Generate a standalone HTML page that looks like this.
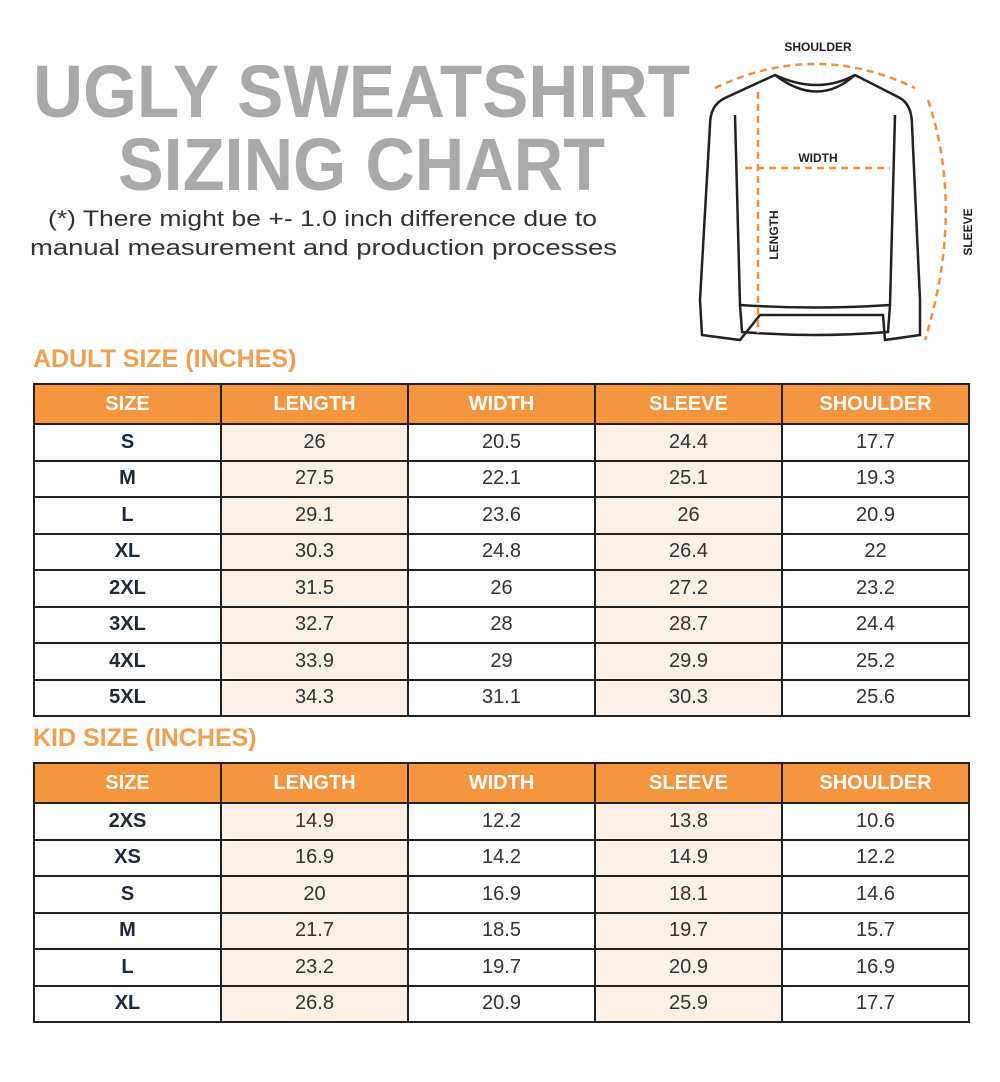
<!DOCTYPE html>
<html><head><meta charset="utf-8"><style>
body{margin:0;background:#fff;width:1000px;height:1082px;position:relative;overflow:hidden;font-family:"Liberation Sans",sans-serif}
table{position:absolute;left:33px;border-collapse:collapse;table-layout:fixed;width:937px}
td,th{border:2px solid #222;text-align:center;padding:0;font-size:20px}
th{background:#f5953d;color:#fff;font-weight:bold;height:38px}
td{height:34.5px;color:#333}
td:first-child{font-weight:bold;color:#1d2838}
td:nth-child(2),td:nth-child(4){background:#fdf0e6}
.h{position:absolute;left:33px;color:#f0a050;font-weight:bold;font-size:25px;margin:0}
</style></head><body>
<svg width="1000" height="360" style="position:absolute;left:0;top:0">
<text x="33" y="117" font-size="74" font-weight="bold" fill="#a9a9a9" textLength="657" lengthAdjust="spacingAndGlyphs">UGLY SWEATSHIRT</text>
<text x="118" y="190" font-size="74" font-weight="bold" fill="#a9a9a9" textLength="487" lengthAdjust="spacingAndGlyphs">SIZING CHART</text>
<text x="48" y="226" font-size="22" fill="#333" textLength="549" lengthAdjust="spacingAndGlyphs">(*) There might be +- 1.0 inch difference due to</text>
<text x="30" y="255" font-size="22" fill="#333" textLength="587" lengthAdjust="spacingAndGlyphs">manual measurement and production processes</text>
<g fill="none" stroke="#222" stroke-width="2.5">
<path d="M775 75 Q818 95 855 75 L900 98 Q912 105 912 125 L920 300 L920 335 L885 340 L883 315 L760 315 L740 340 L702 335 L700 300 L710 125 Q710 105 725 98 Z"/>
<path d="M775 75 Q818 108 855 75"/>
<path d="M735 115 L740 305 Q815 310 890 305 L895 115"/>
<path d="M740 305 L742 332 Q815 338 888 332 L890 305"/>
</g>
<g fill="none" stroke="#f0903a" stroke-width="2.5" stroke-dasharray="7,5">
<path d="M715 88 Q815 40 915 88"/>
<path d="M758 92 L758 333"/>
<path d="M745 168 L890 168"/>
<path d="M928 100 Q965 210 925 340"/>
</g>
<g font-size="12" font-weight="bold" fill="#222">
<text x="818" y="51" text-anchor="middle">SHOULDER</text>
<text x="818" y="162" text-anchor="middle">WIDTH</text>
<text transform="translate(778,235) rotate(-90)" text-anchor="middle">LENGTH</text>
<text transform="translate(972,232) rotate(-90)" text-anchor="middle">SLEEVE</text>
</g>
</svg>
<p class="h" style="top:345px">ADULT SIZE (INCHES)</p>
<table style="top:383px">
<tr><th>SIZE</th><th>LENGTH</th><th>WIDTH</th><th>SLEEVE</th><th>SHOULDER</th></tr>
<tr><td>S</td><td>26</td><td>20.5</td><td>24.4</td><td>17.7</td></tr>
<tr><td>M</td><td>27.5</td><td>22.1</td><td>25.1</td><td>19.3</td></tr>
<tr><td>L</td><td>29.1</td><td>23.6</td><td>26</td><td>20.9</td></tr>
<tr><td>XL</td><td>30.3</td><td>24.8</td><td>26.4</td><td>22</td></tr>
<tr><td>2XL</td><td>31.5</td><td>26</td><td>27.2</td><td>23.2</td></tr>
<tr><td>3XL</td><td>32.7</td><td>28</td><td>28.7</td><td>24.4</td></tr>
<tr><td>4XL</td><td>33.9</td><td>29</td><td>29.9</td><td>25.2</td></tr>
<tr><td>5XL</td><td>34.3</td><td>31.1</td><td>30.3</td><td>25.6</td></tr>
</table>
<p class="h" style="top:724px">KID SIZE (INCHES)</p>
<table style="top:762px">
<tr><th>SIZE</th><th>LENGTH</th><th>WIDTH</th><th>SLEEVE</th><th>SHOULDER</th></tr>
<tr><td>2XS</td><td>14.9</td><td>12.2</td><td>13.8</td><td>10.6</td></tr>
<tr><td>XS</td><td>16.9</td><td>14.2</td><td>14.9</td><td>12.2</td></tr>
<tr><td>S</td><td>20</td><td>16.9</td><td>18.1</td><td>14.6</td></tr>
<tr><td>M</td><td>21.7</td><td>18.5</td><td>19.7</td><td>15.7</td></tr>
<tr><td>L</td><td>23.2</td><td>19.7</td><td>20.9</td><td>16.9</td></tr>
<tr><td>XL</td><td>26.8</td><td>20.9</td><td>25.9</td><td>17.7</td></tr>
</table>
</body></html>
